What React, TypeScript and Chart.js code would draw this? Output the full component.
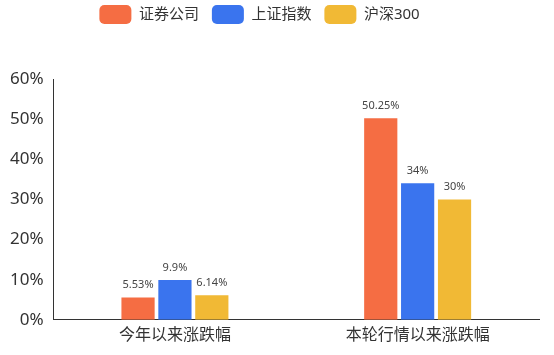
import React, { useEffect, useRef } from "react";
import { Chart, registerables } from "chart.js";

Chart.register(...registerables);

const categories = ["今年以来涨跌幅", "本轮行情以来涨跌幅"];
const seriesNames = ["证券公司", "上证指数", "沪深300"];
const brokerValues = [5.53, 50.25];
const shIndexValues = [9.9, 34];
const hs300Values = [6.14, 30];
const seriesColors = ["#F56D43", "#3A74EE", "#F1B935"];
const yTicksMax = 60;
const yTickStep = 10;

const FONT = "'Noto Sans', 'Noto Sans CJK SC', sans-serif";

const valueLabelPlugin = {
  id: "valueLabels",
  afterDatasetsDraw(chart: any) {
    const ctx = chart.ctx;
    ctx.save();
    ctx.font = `11px ${FONT}`;
    ctx.fillStyle = "#444";
    ctx.textAlign = "center";
    ctx.textBaseline = "bottom";
    chart.data.datasets.forEach((ds: any, i: number) => {
      const meta = chart.getDatasetMeta(i);
      meta.data.forEach((bar: any, j: number) => {
        ctx.fillText(ds.data[j] + "%", bar.x, bar.y - 7);
      });
    });
    ctx.restore();
  },
};

const legendMarginPlugin = {
  id: "legendMargin",
  beforeInit(chart: any) {
    const origFit = chart.legend.fit;
    chart.legend.fit = function () {
      origFit.bind(chart.legend)();
      this.height += 45;
    };
  },
  afterLayout(chart: any) {
    chart.legend.left -= 10;
    chart.legend.right -= 10;
  },
};

export default function App() {
  const ref = useRef<HTMLCanvasElement>(null);
  useEffect(() => {
    document.body.style.margin = "0";
    const chart = new Chart(ref.current!, {
      type: "bar",
      data: {
        labels: categories,
        datasets: [brokerValues, shIndexValues, hs300Values].map((d, i) => ({
          label: seriesNames[i],
          data: d,
          backgroundColor: seriesColors[i],
          barPercentage: 0.9,
          categoryPercentage: 0.456,
        })),
      },
      options: {
        animation: false,
        responsive: false,
        maintainAspectRatio: false,
        layout: { padding: { top: -8, right: 15, left: 0, bottom: 4 } },
        plugins: {
          legend: {
            display: true,
            position: "top",
            labels: {
              boxWidth: 32,
              boxHeight: 19,
              useBorderRadius: true,
              borderRadius: 5,
              padding: 13,
              color: "#333",
              font: { size: 15, family: FONT },
            },
          },
          tooltip: { enabled: false },
        },
        scales: {
          x: {
            grid: { display: false, drawTicks: false },
            border: { display: true, color: "#333", width: 1 },
            ticks: { color: "#333", padding: 6, font: { size: 16, family: FONT } },
          },
          y: {
            min: 0,
            max: yTicksMax,
            grid: { display: false, drawTicks: false },
            border: { display: true, color: "#333", width: 1 },
            ticks: {
              stepSize: yTickStep,
              color: "#333",
              padding: 10,
              font: { size: 17, family: FONT },
              callback: (v: any) => v + "%",
            },
          },
        },
      },
      plugins: [valueLabelPlugin, legendMarginPlugin],
    });
    return () => chart.destroy();
  }, []);
  return (
    <div style={{ width: 554, height: 355 }}>
      <canvas ref={ref} width={554} height={355} style={{ display: "block" }} />
    </div>
  );
}
